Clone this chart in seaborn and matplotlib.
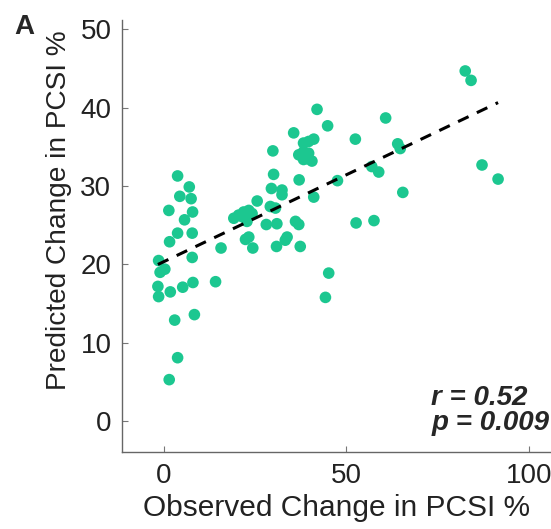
import numpy as np
import pandas as pd
import seaborn as sns
import matplotlib.pyplot as plt

sns.set_style('white')
plt.rcParams['font.family'] = ['Liberation Sans', 'DejaVu Sans']

# observed vs predicted change in PCSI (%)
observed = [3.8, 7.0, 4.4, 7.5, 1.4, 7.9, 5.7, 3.8, 7.8, 1.6, 7.8, -1.4, -1.0, 0.3,
            -1.6, -1.4, 1.8, 5.2, 8.0, 14.2, 3.0, 8.4, 3.8, 1.5,
            15.7, 24.4, 22.4, 23.3, 28.1, 31.0, 36.1, 37.0, 33.8, 33.3, 30.9, 37.4,
            19.2, 20.5, 21.9, 23.3, 24.2, 21.5, 22.8, 25.6, 29.2, 30.6, 41.1,
            42.0, 44.9, 35.6, 52.5, 41.1, 39.7, 38.3, 29.9, 37.0, 38.3, 39.7, 38.3, 40.6, 39.3,
            30.1, 37.1, 47.6, 29.5, 32.4, 32.4,
            60.8, 64.1, 64.8, 57.0, 58.9, 65.5, 52.7, 57.6, 45.2, 44.3, 82.6, 84.2, 87.2, 91.6]
predicted = [31.3, 29.9, 28.7, 28.4, 26.9, 26.7, 25.7, 24.0, 24.0, 22.9, 20.9, 20.5, 19.0, 19.4,
             17.2, 15.9, 16.5, 17.1, 17.7, 17.8, 12.9, 13.6, 8.1, 5.3,
             22.1, 22.1, 23.2, 23.5, 25.1, 25.2, 25.5, 25.1, 23.5, 23.1, 22.3, 22.3,
             25.9, 26.3, 26.7, 26.9, 26.5, 26.1, 25.5, 28.1, 27.4, 27.2, 28.6,
             39.8, 37.7, 36.8, 36.0, 36.0, 35.7, 35.5, 34.5, 34.0, 34.4, 34.2, 33.4, 33.2, 33.5,
             31.5, 30.8, 30.7, 29.7, 29.5, 28.9,
             38.7, 35.4, 34.8, 32.5, 31.8, 29.2, 25.3, 25.6, 18.9, 15.8, 44.7, 43.5, 32.7, 30.9]
x_ticks = [0, 50, 100]
y_ticks = [0, 10, 20, 30, 40, 50]

df = pd.DataFrame({'observed': observed, 'predicted': predicted})
green = '#1cc790'

fig = plt.figure(figsize=(5.51, 5.29), dpi=100)
ax = fig.add_axes([0.2223, 0.1461, 0.7777, 0.816])

sns.scatterplot(data=df, x='observed', y='predicted', color=green, s=70,
                edgecolor='none', ax=ax, zorder=2)
sns.regplot(data=df, x='observed', y='predicted', scatter=False, ci=None, ax=ax,
            line_kws={'color': 'black', 'lw': 2.2, 'linestyle': (0, (3.8, 3)), 'zorder': 3})

ax.set_xlim(-11.3, 106.1)
ax.set_ylim(-3.9, 51.2)
ax.set_xticks(x_ticks)
ax.set_yticks(y_ticks)
ax.tick_params(bottom=True, left=True, direction='in', length=4, width=0.8, color='#777777',
               labelsize=20, labelcolor='#222222', pad=8)

for side in ['top', 'right']:
    ax.spines[side].set_visible(False)
for side in ['left', 'bottom']:
    ax.spines[side].set_color('#666666')
    ax.spines[side].set_linewidth(1.0)

ax.set_xlabel('Observed Change in PCSI %', fontsize=21.5, color='#222222', labelpad=4)
ax.set_ylabel('Predicted Change in PCSI %', fontsize=20.2, color='#222222')
ax.yaxis.set_label_coords(-0.118, 0.56)

ax.text(73.3, 2.0, 'r = 0.52', fontsize=20, fontweight='bold', fontstyle='italic')
ax.text(73.3, -1.15, 'p = 0.009', fontsize=20, fontweight='bold', fontstyle='italic')
fig.text(0.026, 0.935, 'A', fontsize=20, fontweight='bold')

fig.savefig('out.png', dpi=100)
